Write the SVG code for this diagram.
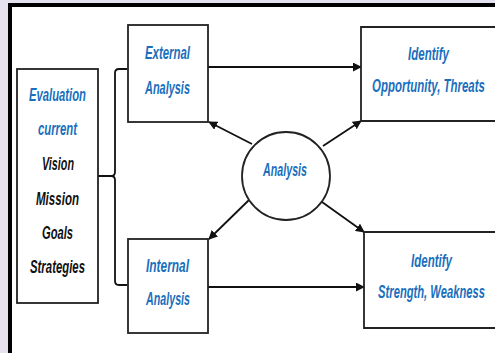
<svg xmlns="http://www.w3.org/2000/svg" width="495" height="353" viewBox="0 0 495 353">
<defs>
<marker id="ahb" viewBox="0 0 10 10" refX="9" refY="5" markerWidth="9" markerHeight="9" orient="auto" markerUnits="userSpaceOnUse"><path d="M0,0 L10,5 L0,10 z" fill="#111"/></marker>
<style>
.box{fill:#fff;stroke:#222;stroke-width:1.8}
.t{font-family:"Liberation Sans",Arial,sans-serif;font-style:italic;font-weight:bold;font-size:19px;text-anchor:middle}
.b{fill:#1a6fbd}
.k{fill:#111}
.c{fill:none;stroke:#111;stroke-width:1.8}
</style>
</defs>
<rect x="0" y="0" width="495" height="353" fill="#e6e1ee"/>
<rect x="10" y="5" width="485" height="348" fill="#fff"/>
<line x1="8" y1="5" x2="495" y2="5" stroke="#000" stroke-width="4"/>
<line x1="10" y1="3" x2="10" y2="353" stroke="#000" stroke-width="4"/>

<g id="connectors">
<path class="c" d="M127,69 H119 Q115,69 115,73 V172 Q115,176 111,176 H98 M111,176 Q115,176 115,180 V281 Q115,285 119,285 H127"/>
<line class="c" x1="208" y1="67" x2="361" y2="67" marker-end="url(#ahb)"/>
<line class="c" x1="208" y1="287" x2="364" y2="287" marker-end="url(#ahb)"/>
<line class="c" x1="252" y1="144" x2="209" y2="122" marker-end="url(#ahb)"/>
<line class="c" x1="249" y1="200" x2="209" y2="239" marker-end="url(#ahb)"/>
<line class="c" x1="323" y1="146" x2="361" y2="121" marker-end="url(#ahb)"/>
<line class="c" x1="322" y1="202" x2="364" y2="232" marker-end="url(#ahb)"/>
</g>

<g id="evaluation">
<rect class="box" x="17" y="69" width="81" height="234"/>
<text class="t b" x="57.5" y="101" textLength="57" lengthAdjust="spacingAndGlyphs">Evaluation</text>
<text class="t b" x="57.5" y="135" textLength="39" lengthAdjust="spacingAndGlyphs">current</text>
<text class="t k" x="58" y="170" textLength="32" lengthAdjust="spacingAndGlyphs">Vision</text>
<text class="t k" x="57.5" y="205" textLength="43" lengthAdjust="spacingAndGlyphs">Mission</text>
<text class="t k" x="57.5" y="239" textLength="31" lengthAdjust="spacingAndGlyphs">Goals</text>
<text class="t k" x="57.5" y="273" textLength="55" lengthAdjust="spacingAndGlyphs">Strategies</text>
</g>

<g id="external">
<rect class="box" x="128" y="25" width="80" height="97"/>
<text class="t b" x="167.5" y="59" textLength="45" lengthAdjust="spacingAndGlyphs">External</text>
<text class="t b" x="167.5" y="94" textLength="45" lengthAdjust="spacingAndGlyphs">Analysis</text>
</g>

<g id="internal">
<rect class="box" x="128" y="239" width="80" height="94"/>
<text class="t b" x="167.5" y="272" textLength="43" lengthAdjust="spacingAndGlyphs">Internal</text>
<text class="t b" x="168" y="305" textLength="44" lengthAdjust="spacingAndGlyphs">Analysis</text>
</g>

<g id="analysis">
<ellipse cx="286" cy="176" rx="44" ry="44" fill="#fff" stroke="#222" stroke-width="1.8"/>
<text class="t b" x="285" y="176" textLength="44" lengthAdjust="spacingAndGlyphs">Analysis</text>
</g>

<g id="opportunity">
<path class="box" d="M495,27 H361 V121 H495"/>
<text class="t b" x="428.5" y="60" textLength="41" lengthAdjust="spacingAndGlyphs">Identify</text>
<text class="t b" transform="translate(428.5,92) scale(0.62,1)" x="0" y="0" textLength="182" lengthAdjust="spacingAndGlyphs">Opportunity, Threats</text>
</g>

<g id="strength">
<path class="box" d="M495,232 H364 V328 H495"/>
<text class="t b" x="431.5" y="267" textLength="41" lengthAdjust="spacingAndGlyphs">Identify</text>
<text class="t b" transform="translate(431.5,298) scale(0.6,1)" x="0" y="0" textLength="178" lengthAdjust="spacingAndGlyphs">Strength, Weakness</text>
</g>
</svg>
